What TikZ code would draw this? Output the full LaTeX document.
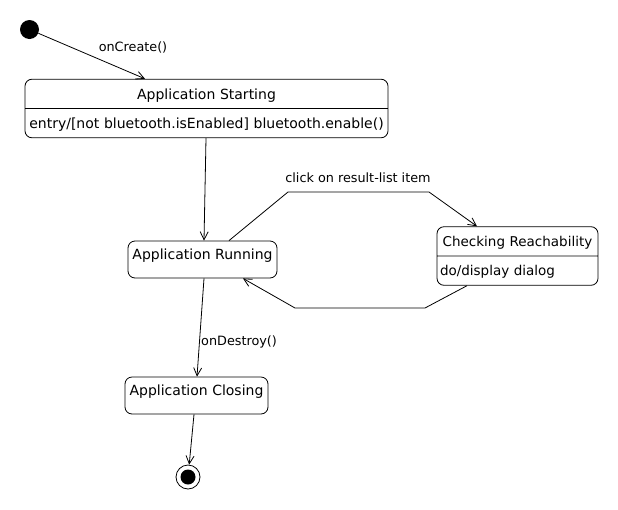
\documentclass[tikz,border=0pt]{standalone}
\usepackage{fontspec}
\setmainfont{DejaVu Sans}
\usetikzlibrary{shapes.multipart, arrows.meta}
\tikzstyle{state} = [rectangle, rounded corners=7pt, draw=black, line width=0.8pt, inner sep=0pt, font=\fontsize{14}{17}\selectfont, text centered]
\tikzstyle{simplestate} = [state, text height=18.5pt, text depth=18.5pt]
\tikzstyle{splitstate} = [state, rectangle split, rectangle split parts=2, inner ysep=0pt, inner xsep=3pt]
\tikzstyle{label} = [font=\fontsize{12.8}{15}\selectfont, inner sep=1pt]
\tikzstyle{arrow} = [line width=0.8pt, -{Straight Barb[length=8pt, width=8pt]}]
\newcommand{\partstrut}{\rule[-9pt]{0pt}{28.5pt}}

\begin{document}
\begin{tikzpicture}[x=1pt, y=-1pt]
        \useasboundingbox (0,0) rectangle (618,509);
        % Nodes
        \node (init) [circle, fill=black, minimum size=19pt, inner sep=0pt] at (29.5,29.5) {};
        \node (starting) [splitstate, text width=357pt] at (206.5,108.5)
            {\partstrut Application Starting\nodepart{two}\partstrut entry/[not bluetooth.isEnabled] bluetooth.enable()};
        \node (running) [simplestate, minimum width=149pt] at (202.5,259.5) {Application Running};
        \node (checking) [splitstate, text width=155pt, font=\fontsize{13.5}{16}\selectfont] at (517.5,256)
            {\partstrut Checking Reachability\nodepart{two}\hbox to \linewidth{\partstrut do/display dialog\hfil}};
        \node (closing) [simplestate, minimum width=143pt] at (196.5,395.5) {Application Closing};
        \node (final) [circle, draw=black, line width=0.8pt, minimum size=24pt, inner sep=0pt] at (188,477) {};
        \fill (final.center) circle (7.5pt);

        % Bends
        \coordinate (up1) at (288,192);
        \coordinate (up2) at (429,192);
        \coordinate (down1) at (425,308);
        \coordinate (down2) at (295,308);

        % Arrows
        \draw [arrow] (init) -- ([xshift=-61.5pt]starting.north);
        \node [label] at (133,47) {onCreate()};
        \draw [arrow] ([xshift=-0.5pt]starting.south) -- ([xshift=1.5pt]running.north);
        \draw [arrow] ([xshift=26.5pt]running.north) -- (up1) -- (up2) -- ([xshift=-40.5pt]checking.north);
        \node [label] at (358,178) {click on result-list item};
        \draw [arrow] ([xshift=-50.5pt]checking.south) -- (down1) -- (down2) -- ([xshift=40.5pt]running.south);
        \draw [arrow] ([xshift=1.5pt]running.south) -- ([xshift=0.5pt]closing.north);
        \node [label, anchor=west] at (200,342) {onDestroy()};
        \draw [arrow] ([xshift=-2.5pt]closing.south) -- (final);
    \end{tikzpicture}
\end{document}
